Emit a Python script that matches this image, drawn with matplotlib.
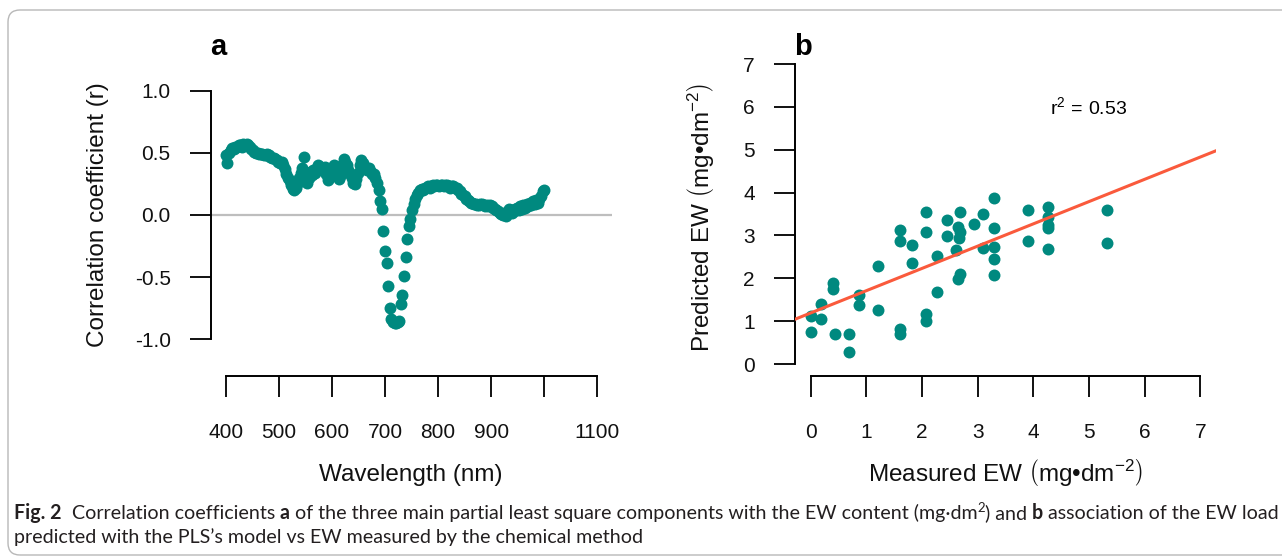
import matplotlib
matplotlib.use("Agg")
import matplotlib.pyplot as plt
import numpy as np
from matplotlib.patches import FancyBboxPatch
from matplotlib.transforms import IdentityTransform

# ---- panel a: correlation coefficient per wavelength (3 nm grid) ----
wavelength = np.arange(400, 1001, 3)
corr_r = [
    0.48, 0.42, 0.50, 0.52, 0.54, 0.53, 0.55, 0.55, 0.56, 0.56,
    0.55, 0.57, 0.56, 0.57, 0.56, 0.55, 0.53, 0.52, 0.51, 0.50,
    0.50, 0.49, 0.49, 0.49, 0.48, 0.48, 0.49, 0.48, 0.47, 0.46,
    0.46, 0.45, 0.44, 0.43, 0.42, 0.43, 0.40, 0.37, 0.33, 0.30,
    0.27, 0.24, 0.21, 0.20, 0.22, 0.25, 0.30, 0.34, 0.38, 0.47,
    0.33, 0.26, 0.30, 0.35, 0.32, 0.36, 0.34, 0.38, 0.40, 0.38,
    0.39, 0.36, 0.39, 0.33, 0.28, 0.30, 0.35, 0.37, 0.40, 0.38,
    0.34, 0.29, 0.31, 0.40, 0.45, 0.43, 0.40, 0.36, 0.33, 0.30,
    0.26, 0.25, 0.29, 0.34, 0.40, 0.44, 0.42, 0.39, 0.37, 0.36,
    0.38, 0.35, 0.33, 0.33, 0.30, 0.26, 0.20, 0.11, 0.05, -0.13,
    -0.29, -0.39, -0.57, -0.75, -0.84, -0.86, -0.87, -0.87, -0.86, -0.85,
    -0.72, -0.64, -0.49, -0.34, -0.19, -0.09, -0.03, 0.04, 0.09, 0.13,
    0.16, 0.18, 0.20, 0.21, 0.20, 0.22, 0.22, 0.23, 0.22, 0.23,
    0.24, 0.23, 0.24, 0.24, 0.23, 0.24, 0.24, 0.23, 0.24, 0.24,
    0.23, 0.22, 0.23, 0.23, 0.22, 0.22, 0.20, 0.19, 0.17, 0.16,
    0.15, 0.13, 0.12, 0.11, 0.10, 0.10, 0.09, 0.09, 0.08, 0.08,
    0.09, 0.09, 0.08, 0.07, 0.08, 0.07, 0.08, 0.07, 0.06, 0.05,
    0.04, 0.03, 0.02, 0.01, 0.00, 0.02, -0.01, 0.03, 0.05, 0.04,
    0.02, 0.03, 0.05, 0.06, 0.04, 0.07, 0.05, 0.08, 0.06, 0.09,
    0.07, 0.10, 0.08, 0.11, 0.09, 0.12, 0.10, 0.13, 0.15, 0.19,
    0.20,
]
wl_ticks = [400, 500, 600, 700, 800, 900, 1000, 1100]
wl_labels = ["400", "500", "600", "700", "800", "900", "", "1100"]
r_ticks = [-1.0, -0.5, 0.0, 0.5, 1.0]
r_labels = ["-1.0", "-0.5", "0.0", "0.5", "1.0"]

# ---- panel b: measured vs predicted EW ----
measured_ew = [
    2.08, 2.45, 2.69, 2.93, 3.10, 1.60, 1.60, 2.08, 1.82, 2.65,
    2.69, 2.67, 2.45, 2.62, 2.27, 1.82, 1.21, 3.10, 2.69, 2.65,
    0.40, 0.40, 0.87, 0.87, 0.18, 0.00, 0.18, 1.21, 2.27, 2.08,
    2.08, 1.61, 1.61, 0.00, 0.43, 0.69, 0.69, 3.30, 3.91, 4.26,
    4.26, 4.26, 4.26, 3.30, 3.30, 3.30, 3.30, 3.91, 4.26, 5.32,
    5.32,
]
predicted_ew = [
    3.54, 3.35, 3.54, 3.27, 3.49, 3.12, 2.86, 3.09, 2.77, 3.20,
    3.08, 2.95, 2.99, 2.65, 2.51, 2.36, 2.28, 2.71, 2.11, 1.98,
    1.88, 1.74, 1.61, 1.38, 1.40, 1.13, 1.05, 1.25, 1.69, 1.17,
    1.01, 0.82, 0.70, 0.74, 0.70, 0.70, 0.27, 3.87, 3.60, 3.66,
    3.43, 3.17, 3.25, 3.18, 2.73, 2.46, 2.07, 2.86, 2.69, 3.60,
    2.82,
]
fit_intercept = 1.19
fit_slope = 0.52
ew_ticks = [0, 1, 2, 3, 4, 5, 6, 7]

TEAL = "#00897F"
LINE_RED = "#FA5A3C"
W, H = 1282, 559

plt.rcParams["font.family"] = ["Liberation Sans", "DejaVu Sans"]
plt.rcParams["mathtext.fontset"] = "custom"
plt.rcParams["mathtext.rm"] = "Liberation Sans"
plt.rcParams["mathtext.it"] = "Liberation Sans:italic"
plt.rcParams["mathtext.bf"] = "Liberation Sans:bold"

fig = plt.figure(figsize=(W / 100, H / 100), dpi=100)


def px_axes(left, top, right, bottom):
    return fig.add_axes([left / W, 1 - bottom / H, (right - left) / W, (bottom - top) / H])


def style_axes(ax):
    for side in ("top", "right"):
        ax.spines[side].set_visible(False)
    for side in ("left", "bottom"):
        ax.spines[side].set_linewidth(1.4)
    ax.tick_params(axis="both", length=15, width=1.4, labelsize=15, colors="#111111")
    ax.tick_params(axis="x", pad=19)
    ax.tick_params(axis="y", pad=14)


# frame around figure and caption
frame = FancyBboxPatch((8, 559 - 555), 1320, 545,
                       boxstyle="round,pad=0,rounding_size=12",
                       transform=IdentityTransform(), facecolor="none",
                       edgecolor="#b8b8b8", linewidth=1.0)
fig.patches.append(frame)

# panel a
ax_a = px_axes(211, 54, 612, 376)
style_axes(ax_a)
ax_a.set_xlim(372, 1128)
ax_a.set_ylim(-1.296, 1.296)
ax_a.axhline(0, color="#bebebe", lw=1.6, zorder=1)
ax_a.plot(wavelength, corr_r, "o", color=TEAL, ms=8.6, mew=0, zorder=2)
ax_a.set_xticks(wl_ticks)
ax_a.set_xticklabels(wl_labels)
ax_a.set_yticks(r_ticks)
ax_a.set_yticklabels(r_labels)
ax_a.spines["left"].set_bounds(-1, 1)
ax_a.spines["bottom"].set_bounds(400, 1100)

# panel b
ax_b = px_axes(795, 52, 1216, 376)
style_axes(ax_b)
ax_b.set_xlim(-0.28, 7.28)
ax_b.set_ylim(-0.28, 7.28)
ax_b.plot(measured_ew, predicted_ew, "o", color=TEAL, ms=8.6, mew=0, zorder=2)
ax_b.axline((0, fit_intercept), slope=fit_slope, color=LINE_RED, lw=2.2, zorder=3)
ax_b.set_xticks(ew_ticks)
ax_b.set_yticks(ew_ticks)
ax_b.spines["left"].set_bounds(0, 7)
ax_b.spines["bottom"].set_bounds(0, 7)
ax_b.text(5.0, 6.0, r"$\mathrm{r}^{2}\,=\,0.53$", fontsize=14, ha="center", va="center")

# axis titles and panel letters
lab = dict(fontsize=17.5, color="#111111")
fig.text(411 / W, 1 - 475 / H, "Wavelength (nm)", ha="center", va="center", **lab)
fig.text(98 / W, 1 - 215 / H, "Correlation coefficient (r)", rotation=90,
         ha="center", va="center", **lab)
fig.text(1005 / W, 1 - 473 / H, r"Measured EW $\left(\mathrm{mg•dm}^{-2}\right)$",
         ha="center", va="center", **lab)
fig.text(700 / W, 1 - 217 / H, r"Predicted EW $\left(\mathrm{mg•dm}^{-2}\right)$",
         rotation=90, ha="center", va="center", **lab)
fig.text(218 / W, 1 - 55 / H, "a", fontsize=21, fontweight="bold", ha="center", va="baseline")
fig.text(803 / W, 1 - 55 / H, "b", fontsize=21, fontweight="bold", ha="center", va="baseline")

# caption, drawn in runs so bold letters and the superscript sit inline
CAP_FONT = "Lato"
CAP_COLOR = "#231F20"
line1 = [
    ("Fig. 2", "bold", False),
    ("  Correlation coefficients ", "normal", False),
    ("a", "bold", False),
    (" of the three main partial least square components with the EW content (mg\u00b7dm", "normal", False),
    ("2", "normal", True),
    (") and ", "normal", False),
    ("b", "bold", False),
    (" association of the EW load", "normal", False),
]
line2 = [("predicted with the PLS\u2019s model vs EW measured by the chemical method", "normal", False)]

renderer = fig.canvas.get_renderer()


def run_width(s, size, weight):
    t = fig.text(0, 0, "|" + s + "|", fontsize=size, fontweight=weight, family=CAP_FONT)
    w = t.get_window_extent(renderer=renderer).width
    t.remove()
    t = fig.text(0, 0, "||", fontsize=size, fontweight=weight, family=CAP_FONT)
    w -= t.get_window_extent(renderer=renderer).width
    t.remove()
    return w


def run_size(size, sup):
    return size * 0.68 if sup else size


def line_width(runs, size):
    return sum(run_width(s, run_size(size, sup), wt) for s, wt, sup in runs)


def draw_line(runs, x, base, size):
    for s, wt, sup in runs:
        fs = run_size(size, sup)
        yy = base - (size * 100 / 72 * 0.38 if sup else 0)
        fig.text(x / W, 1 - yy / H, s, fontsize=fs, fontweight=wt, family=CAP_FONT,
                 color=CAP_COLOR, ha="left", va="baseline")
        x += run_width(s, fs, wt)


cap_size = 12 * 1256 / line_width(line1, 12)
draw_line(line1, 14, 519, cap_size)
draw_line(line2, 14, 543, cap_size)

fig.savefig("out.png", dpi=100)
